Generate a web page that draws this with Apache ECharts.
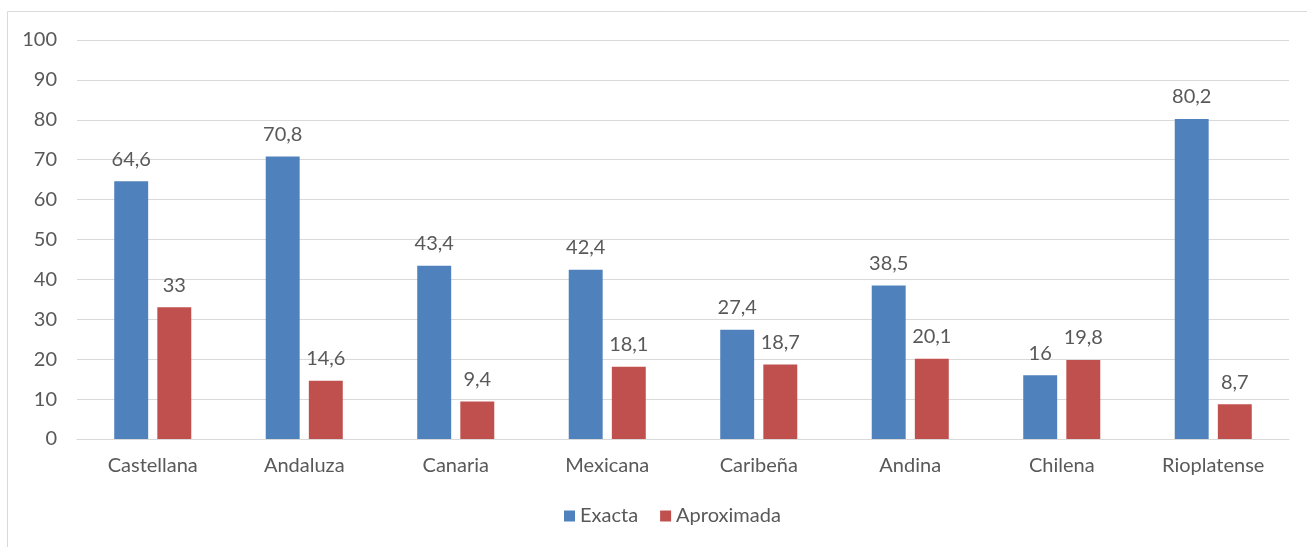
<!DOCTYPE html>
<html>
<head>
<meta charset="utf-8">
<script src="https://cdn.jsdelivr.net/npm/echarts@6/dist/echarts.min.js"></script>
<style>
  html, body { margin: 0; padding: 0; background: #fff; }
  #chart { width: 1307px; height: 547px; }
</style>
</head>
<body>
<div id="chart"></div>
<script>
const categories = ['Castellana', 'Andaluza', 'Canaria', 'Mexicana', 'Caribeña', 'Andina', 'Chilena', 'Rioplatense'];
const exacta = [64.6, 70.8, 43.4, 42.4, 27.4, 38.5, 16, 80.2];
const aproximada = [33, 14.6, 9.4, 18.1, 18.7, 20.1, 19.8, 8.7];
const yTicks = { min: 0, max: 100, interval: 10 };

const FONT = 'Lato, "Open Sans", sans-serif';
const FS = 20;
const TEXT = '#595959';
const GRID = '#D9D9D9';

const chart = echarts.init(document.getElementById('chart'), null, { renderer: 'canvas' });

const comma = p => String(p.value).replace('.', ',');

chart.setOption({
  animation: false,
  textStyle: { fontFamily: FONT },
  graphic: [{
    type: 'rect',
    shape: { x: 7.5, y: 11.5, width: 1320, height: 560 },
    style: { fill: 'none', stroke: GRID, lineWidth: 1 },
    silent: true
  }],
  grid: { left: 77, right: 18, top: 40, bottom: 108 },
  legend: {
    bottom: 16,
    left: 559,
    itemWidth: 11,
    itemHeight: 11,
    itemGap: 22,
    icon: 'rect',
    textStyle: { color: TEXT, fontSize: FS, fontFamily: FONT },
    data: ['Exacta', 'Aproximada']
  },
  xAxis: {
    type: 'category',
    data: categories,
    axisLine: { lineStyle: { color: GRID, width: 1 } },
    axisTick: { show: false },
    axisLabel: { color: TEXT, fontSize: FS, margin: 17, fontFamily: FONT }
  },
  yAxis: {
    type: 'value',
    min: yTicks.min,
    max: yTicks.max,
    interval: yTicks.interval,
    axisLine: { show: false },
    axisTick: { show: false },
    splitLine: { lineStyle: { color: GRID, width: 1 } },
    axisLabel: { color: TEXT, fontSize: FS, margin: 20, fontFamily: FONT }
  },
  series: [
    {
      name: 'Exacta',
      type: 'bar',
      data: exacta,
      barWidth: '22.4%',
      barGap: '27%',
      itemStyle: { color: '#4F81BD' },
      label: { show: true, position: 'top', distance: 12, color: TEXT, fontSize: FS, fontFamily: FONT, formatter: comma }
    },
    {
      name: 'Aproximada',
      type: 'bar',
      data: aproximada,
      barWidth: '22.4%',
      itemStyle: { color: '#C0504D' },
      label: { show: true, position: 'top', distance: 12, color: TEXT, fontSize: FS, fontFamily: FONT, formatter: comma }
    }
  ]
});
</script>
</body>
</html>
